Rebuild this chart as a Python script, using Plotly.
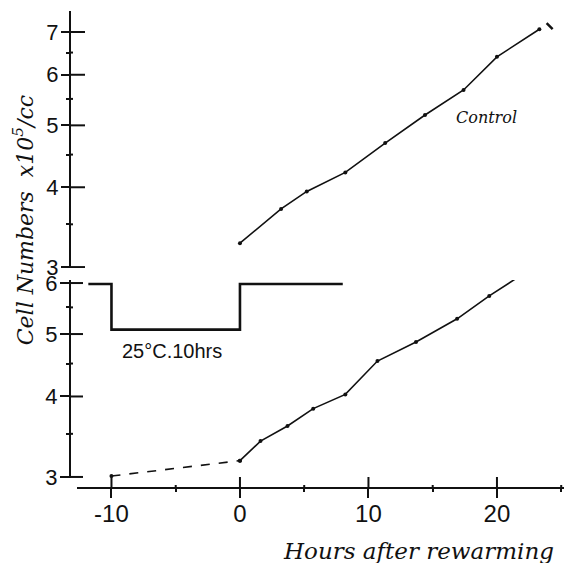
import plotly.graph_objects as go
import math

# ---- data ----
ctrl_hours = [0, 3.2, 5.2, 8.2, 11.3, 14.4, 17.4, 20.0, 23.3]
ctrl_vals = [3.27, 3.70, 3.94, 4.22, 4.69, 5.19, 5.68, 6.40, 7.07]
ctrl_extra_hours = [24.1]
ctrl_extra_vals = [7.15]

chill_pre_hours = [-10, 0]
chill_pre_vals = [3.01, 3.18]
chill_hours = [0, 1.6, 3.7, 5.7, 8.2, 10.7, 13.7, 16.9, 19.4, 23.1]
chill_vals = [3.18, 3.41, 3.60, 3.83, 4.03, 4.54, 4.86, 5.28, 5.73, 6.40]

temp_hours = [-11.8, -10, -10, 0, 0, 8]
temp_levels = [5.98, 5.98, 5.08, 5.08, 5.98, 5.98]

x_ticks = [-10, 0, 10, 20]
x_ticktext = ["-10", "0", "10", "20"]
x_minor = [-5, 5, 15, 25]
y_low_ticks = [3, 4, 5, 6]
y_low_minor = [3.5, 4.5, 5.5]
y_up_ticks = [3, 4, 5, 6, 7]
y_up_minor = [3.5, 4.5, 5.5, 6.5]

# ---- layout geometry (page body adds an 8px offset) ----
W, H = 564, 555
ML, MR, MT, MB = 62, 0, 3, 75
X_RANGE = [-12.68, 25.84]
LOW_DOMAIN = [0.021, 0.436]
LOW_RANGE = [math.log10(2.989), math.log10(6.065)]
UP_DOMAIN = [0.461, 1.0]
UP_RANGE = [math.log10(2.989), math.log10(7.55)]

BLACK = "#111111"
xtickfont = dict(family="Liberation Sans", size=24, color=BLACK)
ytickfont = dict(family="Liberation Sans", size=22, color=BLACK)

fig = go.Figure()

fig.add_trace(go.Scatter(x=ctrl_hours, y=ctrl_vals, xaxis="x", yaxis="y2",
                         mode="lines+markers",
                         line=dict(color=BLACK, width=1.6),
                         marker=dict(color=BLACK, size=4),
                         hoverinfo="skip", showlegend=False))
fig.add_trace(go.Scatter(x=ctrl_extra_hours, y=ctrl_extra_vals, xaxis="x", yaxis="y2",
                         mode="markers",
                         marker=dict(symbol="line-nw", size=6,
                                     line=dict(color=BLACK, width=2.5)),
                         hoverinfo="skip", showlegend=False))
fig.add_trace(go.Scatter(x=chill_pre_hours, y=chill_pre_vals, xaxis="x", yaxis="y",
                         mode="lines+markers",
                         line=dict(color=BLACK, width=1.6, dash="dash"),
                         marker=dict(color=BLACK, size=4),
                         hoverinfo="skip", showlegend=False))
fig.add_trace(go.Scatter(x=chill_hours, y=chill_vals, xaxis="x", yaxis="y",
                         mode="lines+markers",
                         line=dict(color=BLACK, width=1.6),
                         marker=dict(color=BLACK, size=4),
                         hoverinfo="skip", showlegend=False))
fig.add_trace(go.Scatter(x=temp_hours, y=temp_levels, xaxis="x", yaxis="y",
                         mode="lines",
                         line=dict(color=BLACK, width=2.6),
                         hoverinfo="skip", showlegend=False))

common_y = dict(type="log", anchor="free", position=0, showgrid=False, zeroline=False,
                showline=True, linecolor=BLACK, linewidth=2, ticklabelstandoff=-2)

fig.update_layout(
    width=W, height=H,
    margin=dict(l=ML, r=MR, t=MT, b=MB, autoexpand=False),
    paper_bgcolor="white", plot_bgcolor="white",
    xaxis=dict(domain=[0.014, 1], range=X_RANGE, anchor="free", position=0,
               showgrid=False, zeroline=False, showline=True, linecolor=BLACK, linewidth=2,
               tickmode="array", tickvals=x_ticks, ticktext=x_ticktext,
               ticks="outside", ticklen=9, tickwidth=2, tickcolor=BLACK,
               tickfont=xtickfont, ticklabelstandoff=-5,
               minor=dict(tickmode="array", tickvals=x_minor, ticks="outside",
                          ticklen=3, tickwidth=2, tickcolor=BLACK)),
    yaxis=dict(domain=LOW_DOMAIN, range=LOW_RANGE, **common_y,
               tickmode="array", tickvals=y_low_ticks, ticktext=[str(v) for v in y_low_ticks],
               ticks="outside", ticklen=9, tickwidth=2, tickcolor=BLACK, tickfont=ytickfont,
               minor=dict(tickmode="array", tickvals=y_low_minor, ticks="outside",
                          ticklen=3, tickwidth=2, tickcolor=BLACK)),
    yaxis2=dict(domain=UP_DOMAIN, range=UP_RANGE, **common_y,
                tickmode="array", tickvals=y_up_ticks, ticktext=[str(v) for v in y_up_ticks],
                ticks="outside", ticklen=8, tickwidth=2, tickcolor=BLACK, tickfont=ytickfont,
                minor=dict(tickmode="array", tickvals=y_up_minor, ticks="outside",
                           ticklen=3, tickwidth=2, tickcolor=BLACK)),
)

# inner halves of the crossing tick marks (pixel-sized, anchored at tick values)
tick_line = dict(color=BLACK, width=2)
for yref, majors, minors, mlen in (("y", y_low_ticks, y_low_minor, 13),
                                   ("y2", y_up_ticks, y_up_minor, 15)):
    for v, ln in [(m, mlen) for m in majors] + [(m, 3) for m in minors]:
        fig.add_shape(type="line", xref="paper", yref=yref, xsizemode="pixel", xanchor=0,
                      x0=0, x1=ln, y0=v, y1=v, line=tick_line)
for v, ln in [(m, 11) for m in x_ticks] + [(m, 3) for m in x_minor]:
    fig.add_shape(type="line", xref="x", yref="paper", ysizemode="pixel", yanchor=0,
                  y0=0, y1=ln, x0=v, x1=v, line=tick_line)

script_font = dict(family="DejaVu Serif", color=BLACK)

fig.add_annotation(text="Cell Numbers  x10<sup>5</sup>/cc", textangle=-90,
                   xref="paper", yref="paper", x=-0.093, y=0.562,
                   xanchor="center", yanchor="middle",
                   showarrow=False, font=dict(size=22, style="italic", **script_font))
fig.add_annotation(text="Hours after rewarming",
                   xref="paper", yref="paper", x=0.695, y=-0.132,
                   xanchor="center", yanchor="middle",
                   showarrow=False, font=dict(size=23, style="italic", **script_font))
fig.add_annotation(text="Control", xref="x", yref="y2", x=19.2, y=math.log10(5.15),
                   xanchor="center", yanchor="middle",
                   showarrow=False, font=dict(size=16, style="italic", **script_font))
fig.add_annotation(text="25°C.10hrs", xref="x", yref="y", x=-5.3, y=math.log10(4.71),
                   xanchor="center", yanchor="middle",
                   showarrow=False, font=dict(family="Liberation Sans", size=20, color=BLACK))

fig.write_html("out.html")
